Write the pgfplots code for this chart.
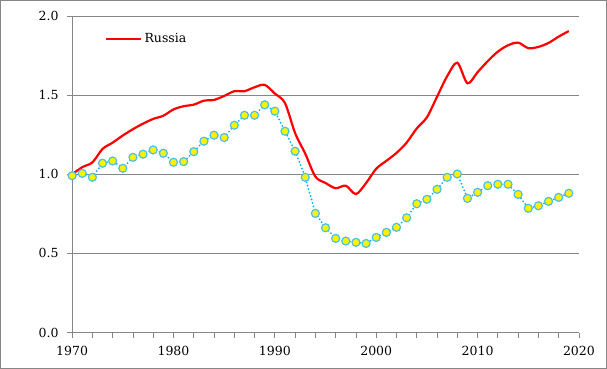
\documentclass[border=0pt]{standalone}
\usepackage{pgfplots}
\pgfplotsset{compat=1.18}
\usepackage{fontspec}
\setmainfont{DejaVu Serif}
\definecolor{gridgray}{RGB}{134,134,134}
\definecolor{rusred}{RGB}{255,0,0}
\definecolor{bluel}{RGB}{0,176,240}
\definecolor{mkedge}{RGB}{75,192,230}

\pgfplotstableread{
year val
1970 1.000
1971 1.045
1972 1.075
1973 1.160
1974 1.200
1975 1.245
1976 1.285
1977 1.320
1978 1.350
1979 1.370
1980 1.410
1981 1.430
1982 1.440
1983 1.465
1984 1.470
1985 1.495
1986 1.525
1987 1.525
1988 1.550
1989 1.565
1990 1.510
1991 1.450
1992 1.260
1993 1.130
1994 0.985
1995 0.945
1996 0.912
1997 0.928
1998 0.875
1999 0.945
2000 1.035
2001 1.085
2002 1.135
2003 1.200
2004 1.290
2005 1.360
2006 1.490
2007 1.620
2008 1.705
2009 1.575
2010 1.645
2011 1.715
2012 1.775
2013 1.815
2014 1.832
2015 1.797
2016 1.805
2017 1.830
2018 1.870
2019 1.905
}\russia

\pgfplotstableread{
year val
1970 0.991
1971 1.006
1972 0.981
1973 1.070
1974 1.084
1975 1.038
1976 1.107
1977 1.127
1978 1.154
1979 1.133
1980 1.076
1981 1.080
1982 1.143
1983 1.209
1984 1.247
1985 1.232
1986 1.310
1987 1.373
1988 1.373
1989 1.439
1990 1.399
1991 1.272
1992 1.146
1993 0.981
1994 0.753
1995 0.662
1996 0.595
1997 0.578
1998 0.570
1999 0.563
2000 0.601
2001 0.633
2002 0.665
2003 0.725
2004 0.814
2005 0.842
2006 0.905
2007 0.981
2008 1.002
2009 0.848
2010 0.886
2011 0.928
2012 0.937
2013 0.937
2014 0.873
2015 0.785
2016 0.801
2017 0.829
2018 0.854
2019 0.880
}\other

\begin{document}
\begin{tikzpicture}
\begin{axis}[
  at={(0,0)}, anchor=south west,
  scale only axis, width=506pt, height=316pt,
  xmin=1970, xmax=2020, ymin=0, ymax=2,
  xtick={1970,1980,...,2020}, minor x tick num=4,
  ytick={0,0.5,1,1.5,2},
  axis x line*=bottom, axis y line*=left,
  axis line style={gridgray, line width=1pt},
  tick align=outside, major tick length=5pt, minor tick length=5pt,
  tick style={gridgray, line width=0.8pt},
  ymajorgrids, grid style={gridgray, line width=1pt},
  font=\fontsize{13}{15}\selectfont,
  tick label style={font=\fontsize{12.5}{15}\selectfont},
  /pgf/number format/assume math mode=true,
  /pgf/number format/1000 sep={},
  xticklabel style={yshift=-5pt},
  yticklabel style={xshift=-5pt, /pgf/number format/.cd, fixed, fixed zerofill, precision=1, /tikz/.cd},
  legend style={at={(0.065,0.927)}, anchor=west, draw=none, fill=none, inner sep=0pt,
    font=\fontsize{12.5}{15}\selectfont},
  legend cell align=left,
  legend image code/.code={\draw[#1] (0pt,0pt) -- (35pt,0pt);},
]
\addplot[rusred, line width=2.2pt, smooth, tension=0.5, mark=none] table[x=year, y=val] {\russia};
\addlegendentry{Russia}
\addplot[bluel, line width=2pt, dash pattern=on 0pt off 3.6pt, line cap=round,
  mark=*, mark size=4pt, mark options={solid, fill=yellow, draw=mkedge, line width=1.2pt},
  forget plot] table[x=year, y=val] {\other};
\end{axis}
\draw[gridgray, line width=1pt] (-71.5pt,-35.5pt) rectangle (533.5pt,331.5pt);
\end{tikzpicture}
\end{document}
